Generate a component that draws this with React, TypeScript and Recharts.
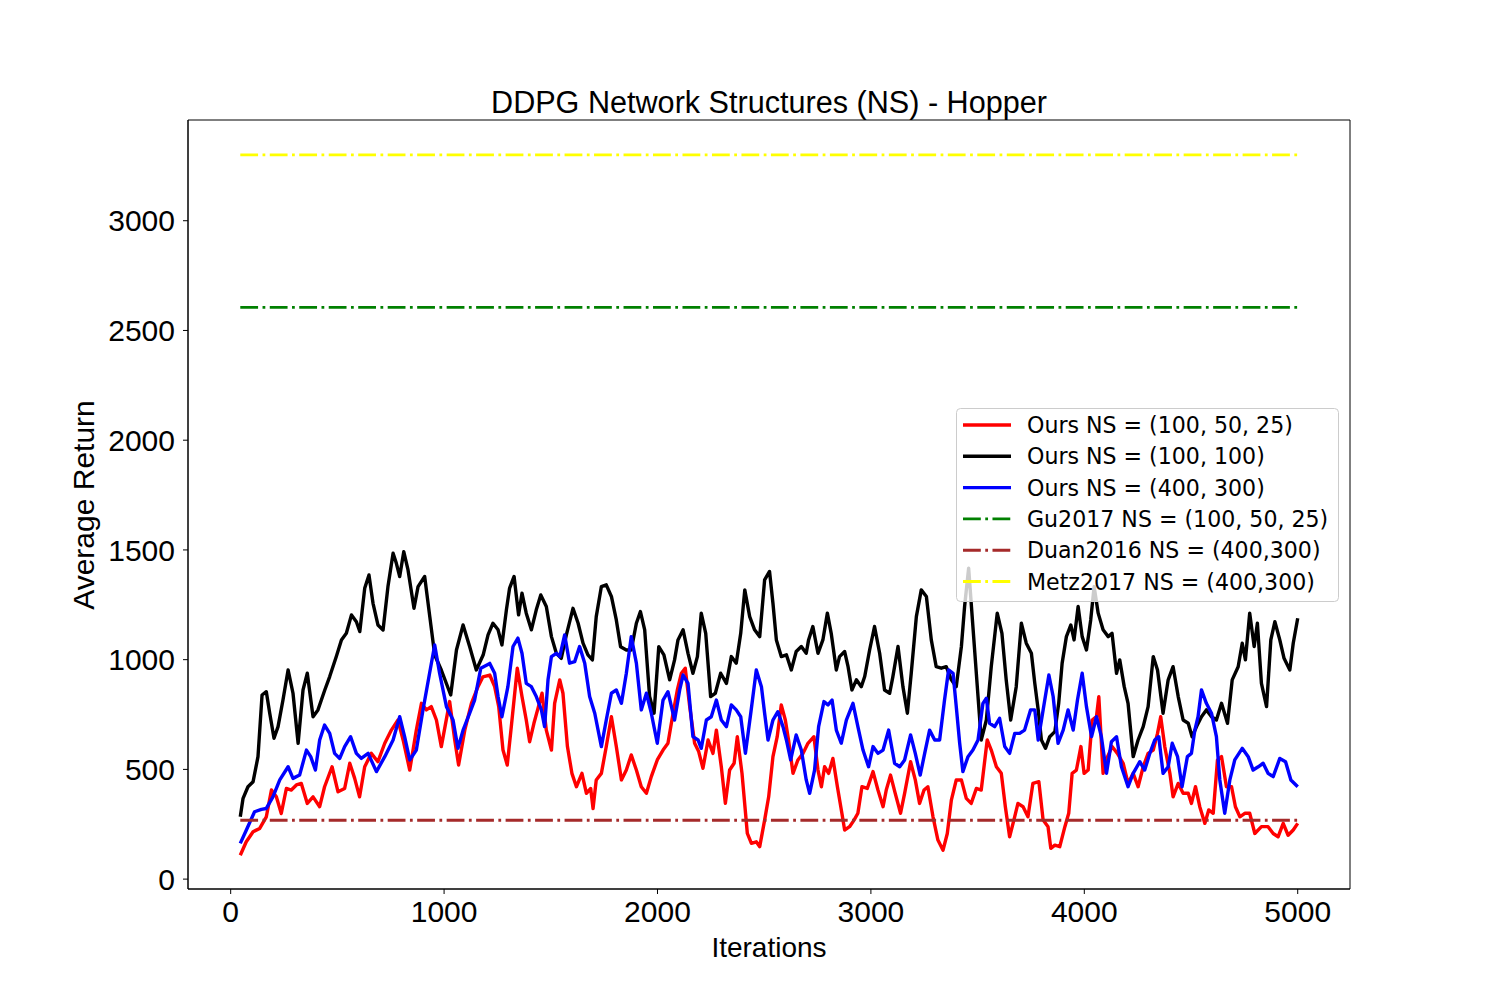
import React from 'react';
import { LineChart, Line, XAxis, YAxis, ReferenceArea } from 'recharts';

// ---------- data ----------
const RED_ITER = [45,73,105,136,167,191,214,237,261,284,308,331,359,386,417,440,475,503,534,558,581,604,628,659,690,722,753,784,808,839,870,894,917,940,964,987,1026,1050,1068,1097,1128,1159,1182,1214,1237,1256,1276,1296,1315,1343,1365,1385,1401,1421,1440,1459,1479,1503,1518,1542,1557,1578,1599,1620,1646,1667,1687,1698,1713,1737,1760,1784,1807,1831,1854,1877,1901,1924,1948,1971,1999,2026,2049,2073,2093,2112,2130,2151,2174,2193,2213,2237,2260,2276,2299,2318,2338,2359,2374,2396,2421,2440,2463,2479,2502,2521,2541,2561,2580,2599,2614,2635,2658,2682,2705,2733,2752,2768,2783,2802,2822,2843,2864,2877,2900,2921,2939,2958,2983,3010,3033,3057,3072,3092,3114,3139,3158,3186,3208,3228,3249,3267,3291,3314,3338,3358,3377,3400,3424,3447,3470,3494,3517,3545,3564,3588,3611,3630,3650,3670,3689,3713,3736,3759,3787,3807,3830,3843,3862,3885,3909,3927,3943,3963,3984,3999,4018,4037,4057,4068,4088,4109,4130,4155,4182,4205,4229,4252,4276,4299,4323,4343,4358,4377,4401,4416,4440,4463,4487,4502,4521,4541,4565,4583,4604,4624,4643,4666,4690,4708,4729,4752,4775,4799,4830,4861,4885,4908,4932,4955,4979,5000];
const RED_RET = [109,170,216,231,284,406,375,299,413,406,429,436,345,375,330,421,512,398,413,528,459,375,512,573,535,619,679,725,634,497,679,801,771,786,725,604,809,634,520,679,801,877,922,930,877,786,588,520,695,961,832,725,626,710,778,847,679,588,801,908,847,604,482,421,482,391,413,322,452,482,604,740,604,452,497,566,497,421,391,467,543,588,619,756,862,938,961,786,619,581,505,634,573,679,512,345,497,528,649,482,208,163,170,148,269,375,558,649,794,725,634,482,543,573,619,649,497,421,512,482,550,421,300,224,239,269,300,421,413,490,406,330,406,474,391,300,391,535,452,345,406,421,284,178,132,208,360,452,452,368,345,413,406,634,588,512,482,330,193,269,345,330,284,436,444,269,239,140,155,148,239,300,482,497,604,482,497,725,740,831,482,558,604,573,528,436,482,421,512,573,588,664,740,604,482,375,436,391,391,345,421,330,254,315,300,543,558,421,421,330,284,300,300,208,239,239,208,193,254,200,224,254];

const BLACK_ITER = [45,58,81,105,128,147,167,183,203,222,245,269,292,316,339,359,386,409,441,464,495,519,542,566,589,605,628,648,667,690,714,737,761,776,792,811,831,859,878,909,933,956,987,1031,1058,1089,1120,1151,1183,1206,1229,1253,1271,1292,1307,1328,1349,1365,1385,1409,1432,1453,1479,1503,1526,1549,1573,1604,1628,1651,1674,1695,1713,1737,1760,1784,1807,1827,1854,1877,1901,1920,1940,1963,1984,2006,2030,2057,2080,2096,2120,2143,2166,2187,2205,2226,2249,2271,2296,2323,2346,2369,2390,2409,2432,2455,2479,2502,2525,2541,2557,2580,2604,2627,2650,2674,2697,2708,2728,2752,2775,2796,2814,2838,2853,2877,2893,2911,2932,2955,2971,2994,3017,3041,3064,3088,3103,3127,3150,3171,3189,3213,3236,3260,3283,3306,3330,3353,3377,3400,3424,3439,3458,3478,3502,3517,3541,3564,3592,3614,3634,3655,3681,3705,3728,3752,3768,3784,3799,3818,3838,3862,3880,3896,3916,3937,3952,3971,3990,4010,4030,4046,4065,4088,4112,4130,4151,4166,4187,4205,4229,4252,4276,4299,4323,4343,4369,4393,4416,4440,4463,4487,4505,4526,4549,4572,4596,4619,4643,4671,4693,4721,4740,4755,4775,4796,4811,4830,4854,4874,4893,4916,4936,4963,4979,5000];
const BLACK_RET = [284,368,421,444,558,839,854,756,642,695,816,953,847,619,862,938,740,771,862,923,1014,1090,1120,1204,1173,1128,1325,1386,1257,1158,1135,1333,1485,1440,1379,1492,1409,1234,1333,1379,1196,1021,953,839,1044,1158,1059,953,1021,1113,1166,1136,1067,1227,1326,1379,1204,1303,1212,1136,1227,1295,1242,1105,1029,1006,1113,1234,1166,1075,1022,999,1196,1333,1341,1288,1181,1059,1044,1044,1166,1219,1136,832,756,1059,1022,908,999,1090,1136,1029,938,1014,1212,1120,832,847,938,892,1014,984,1120,1318,1196,1136,1105,1364,1402,1257,1090,1014,1022,953,1037,1060,1029,1090,1151,1029,1090,1212,1120,953,1014,1037,968,862,908,877,923,1044,1151,1029,862,847,923,1060,877,756,938,1196,1318,1288,1090,968,961,968,908,877,1060,1242,1417,1151,832,634,725,968,1212,1120,908,725,877,1166,1075,1029,892,771,634,596,649,672,801,983,1105,1158,1090,1242,1105,1044,1181,1333,1212,1136,1105,1120,938,999,877,801,558,634,695,786,1014,953,756,908,968,832,725,710,649,695,740,771,740,725,801,710,908,968,1075,999,1212,1060,1166,892,786,1090,1173,1090,1006,953,1075,1189];

const BLUE_ITER = [45,73,112,144,167,198,230,269,292,323,355,375,397,417,440,464,487,511,534,562,589,612,644,683,722,761,792,815,839,870,901,932,956,979,1011,1042,1065,1089,1120,1143,1172,1214,1237,1253,1271,1299,1323,1346,1365,1385,1409,1432,1456,1471,1487,1503,1526,1542,1565,1588,1612,1635,1659,1682,1706,1737,1760,1784,1807,1831,1854,1877,1901,1924,1948,1971,1999,2026,2049,2080,2104,2120,2143,2166,2190,2205,2229,2252,2276,2299,2323,2346,2369,2390,2412,2437,2463,2487,2502,2518,2541,2564,2588,2604,2624,2650,2674,2697,2713,2736,2755,2780,2799,2818,2838,2861,2885,2916,2939,2963,2989,3010,3033,3057,3083,3111,3135,3158,3186,3208,3231,3252,3275,3299,3322,3345,3364,3385,3400,3416,3431,3455,3478,3502,3525,3541,3556,3580,3603,3627,3650,3674,3697,3720,3748,3768,3784,3807,3834,3854,3877,3901,3924,3948,3968,3990,4010,4034,4057,4080,4104,4127,4151,4174,4205,4229,4260,4283,4307,4330,4349,4369,4393,4412,4437,4458,4483,4502,4518,4533,4549,4572,4596,4619,4635,4658,4682,4705,4740,4768,4791,4815,4838,4861,4885,4916,4943,4968,5000];
const BLUE_RET = [163,223,307,318,322,375,452,512,459,474,588,558,497,634,702,664,573,550,604,649,573,550,573,490,558,634,740,649,543,588,771,938,1067,938,786,725,596,679,756,816,961,983,938,832,740,877,1060,1098,1029,892,877,832,771,695,908,1014,1029,1014,1113,984,991,1060,984,832,756,604,725,847,862,801,938,1105,984,771,847,756,619,816,854,725,862,930,892,649,634,596,725,740,816,725,695,794,771,740,573,756,953,877,756,634,725,763,695,634,543,657,588,452,391,497,695,809,794,816,679,619,725,801,695,588,512,604,573,588,679,528,512,543,657,573,474,573,679,634,634,816,953,938,786,619,490,558,588,634,801,824,710,695,733,604,573,664,664,679,771,771,634,771,930,832,619,679,771,679,816,938,786,649,740,649,482,626,649,512,421,482,535,497,573,634,649,482,512,619,558,421,558,573,679,740,862,801,756,649,452,300,452,543,596,558,497,512,528,482,467,550,535,452,421];

const BASE_ITER = [45, 5000];
const GU2017_NS = 2605;
const DUAN2016_NS = 268;
const METZ2017_NS = 3300;

const X_TICKS = [0, 1000, 2000, 3000, 4000, 5000];
const Y_TICKS = [0, 500, 1000, 1500, 2000, 2500, 3000];
const X_DOMAIN: [number, number] = [-200, 5245];
const Y_DOMAIN: [number, number] = [-45, 3459];

const LABELS = [
  'Ours NS = (100, 50, 25)',
  'Ours NS = (100, 100)',
  'Ours NS = (400, 300)',
  'Gu2017 NS = (100, 50, 25)',
  'Duan2016 NS = (400,300)',
  'Metz2017 NS = (400,300)',
];
const COLORS = ['#ff0000', '#000000', '#0000ff', '#008000', '#a52a2a', '#ffff00'];
const DASHED = [false, false, false, true, true, true];

// ---------- helpers ----------
const zip = (xs: number[], ys: number[]) => xs.map((x, i) => ({ x, y: ys[i] }));
const flat = (v: number) => BASE_ITER.map((x) => ({ x, y: v }));

const SERIES = [
  zip(RED_ITER, RED_RET),
  zip(BLACK_ITER, BLACK_RET),
  zip(BLUE_ITER, BLUE_RET),
  flat(GU2017_NS),
  flat(DUAN2016_NS),
  flat(METZ2017_NS),
];

const DASH = '17.8 4.45 2.78 4.45';
const W = 1484;
const H = 984;
const SANS = '"Liberation Sans", Arial, Helvetica, sans-serif';
const LEG_FONT = '"DejaVu Sans", Verdana, sans-serif';
const SOLID_W = 3.4;
const DASH_W = 2.9;

export default function App() {
  return (
    <div style={{ position: 'relative', width: W, height: H }}>
      <LineChart
        width={W}
        height={H}
        margin={{ top: 112, right: 142, bottom: 63, left: 100 }}
      >
        <XAxis
          dataKey="x"
          type="number"
          domain={X_DOMAIN}
          allowDataOverflow
          ticks={X_TICKS}
          interval={0}
          height={40}
          tickSize={5}
          tickMargin={7}
          axisLine={{ stroke: '#000', strokeWidth: 1 }}
          tickLine={{ stroke: '#000', strokeWidth: 1 }}
          tick={{ fill: '#000', fontSize: 30, fontFamily: SANS }}
        />
        <YAxis
          dataKey="y"
          type="number"
          domain={Y_DOMAIN}
          allowDataOverflow
          ticks={Y_TICKS}
          interval={0}
          width={80}
          tickSize={5}
          tickMargin={8}
          axisLine={{ stroke: '#000', strokeWidth: 1 }}
          tickLine={{ stroke: '#000', strokeWidth: 1 }}
          tick={{ fill: '#000', fontSize: 30, fontFamily: SANS }}
        />
        {SERIES.map((data, i) => (
          <Line
            key={LABELS[i]}
            data={data}
            dataKey="y"
            name={LABELS[i]}
            type="linear"
            stroke={COLORS[i]}
            strokeWidth={DASHED[i] ? DASH_W : SOLID_W}
            strokeDasharray={DASHED[i] ? DASH : undefined}
            strokeLinejoin="round"
            dot={false}
            activeDot={false}
            isAnimationActive={false}
          />
        ))}
        <ReferenceArea
          x1={X_DOMAIN[0]}
          x2={X_DOMAIN[1]}
          y1={Y_DOMAIN[0]}
          y2={Y_DOMAIN[1]}
          fill="none"
          fillOpacity={0}
          stroke="#000"
          strokeWidth={1}
          ifOverflow="visible"
        />
      </LineChart>
      <svg
        width={W}
        height={H}
        style={{ position: 'absolute', left: 0, top: 0, pointerEvents: 'none' }}
      >
        <text x={761} y={105} textAnchor="middle" fontSize={30.6} fontFamily={SANS} fill="#000">
          DDPG Network Structures (NS) - Hopper
        </text>
        <text x={761} y={949} textAnchor="middle" fontSize={28} fontFamily={SANS} fill="#000">
          Iterations
        </text>
        <text
          transform="translate(86,497) rotate(-90)"
          textAnchor="middle"
          fontSize={30}
          fontFamily={SANS}
          fill="#000"
        >
          Average Return
        </text>
        <g>
          <rect
            x={948.5}
            y={400.5}
            width={382}
            height={193}
            rx={4}
            ry={4}
            fill="#ffffff"
            fillOpacity={0.8}
            stroke="#cccccc"
            strokeWidth={1}
          />
          {LABELS.map((lab, i) => {
            const cy = 417 + i * 31.3;
            return (
              <g key={lab}>
                <line
                  x1={955}
                  x2={1003}
                  y1={cy}
                  y2={cy}
                  stroke={COLORS[i]}
                  strokeWidth={DASHED[i] ? DASH_W : SOLID_W}
                  strokeDasharray={DASHED[i] ? DASH : undefined}
                />
                <text x={1019} y={cy + 8} fontSize={22.1} fontFamily={LEG_FONT} fill="#000">
                  {lab}
                </text>
              </g>
            );
          })}
        </g>
      </svg>
    </div>
  );
}
